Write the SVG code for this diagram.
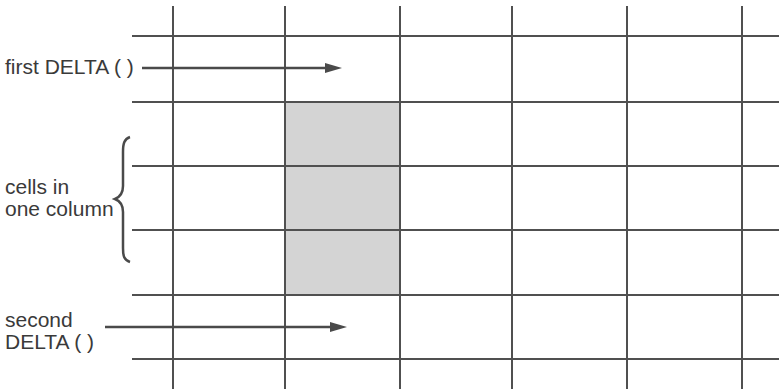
<svg xmlns="http://www.w3.org/2000/svg" width="779" height="389" viewBox="0 0 779 389">
<defs>
<style>
.grid line{stroke:#505050;stroke-width:2}
.lbl{font-family:"Liberation Sans",Arial,sans-serif;font-size:21px;fill:#3a3a3a}
.arr{stroke:#4a4a4a;stroke-width:2.5;fill:none}
.head{fill:#4a4a4a}
.brace{stroke:#4a4a4a;stroke-width:2.5;fill:none}
</style>
</defs>
<rect width="779" height="389" fill="#ffffff"/>
<g id="shaded-column">
<rect x="285" y="102" width="115" height="193" fill="#d4d4d4"/>
</g>
<g id="grid" class="grid">
<line x1="173" y1="6" x2="173" y2="389"/>
<line x1="285" y1="6" x2="285" y2="389"/>
<line x1="400" y1="6" x2="400" y2="389"/>
<line x1="512" y1="6" x2="512" y2="389"/>
<line x1="627" y1="6" x2="627" y2="389"/>
<line x1="742" y1="6" x2="742" y2="389"/>
<line x1="132" y1="36" x2="779" y2="36"/>
<line x1="132" y1="102" x2="779" y2="102"/>
<line x1="132" y1="166" x2="779" y2="166"/>
<line x1="132" y1="230" x2="779" y2="230"/>
<line x1="132" y1="295" x2="779" y2="295"/>
<line x1="132" y1="359" x2="779" y2="359"/>
</g>
<g id="label-first">
<text class="lbl" x="5" y="74">first DELTA ( )</text>
</g>
<g id="label-cells">
<text class="lbl" x="5" y="194">cells in</text>
<text class="lbl" x="5" y="216">one column</text>
</g>
<g id="brace">
<path class="brace" d="M130,137 C124,139 123,144 123,152 L123,186 C123,193 120,197 115,199 C120,201 123,205 123,212 L123,248 C123,256 124,260 130,262"/>
</g>
<g id="label-second">
<text class="lbl" x="5" y="327">second</text>
<text class="lbl" x="5" y="349">DELTA ( )</text>
</g>
<g id="connectors">
<line class="arr" x1="142" y1="68" x2="327" y2="68"/>
<polygon class="head" points="325,63 342,68 325,73"/>
<line class="arr" x1="105" y1="327" x2="332" y2="327"/>
<polygon class="head" points="330,322 347,327 330,332"/>
</g>
</svg>
